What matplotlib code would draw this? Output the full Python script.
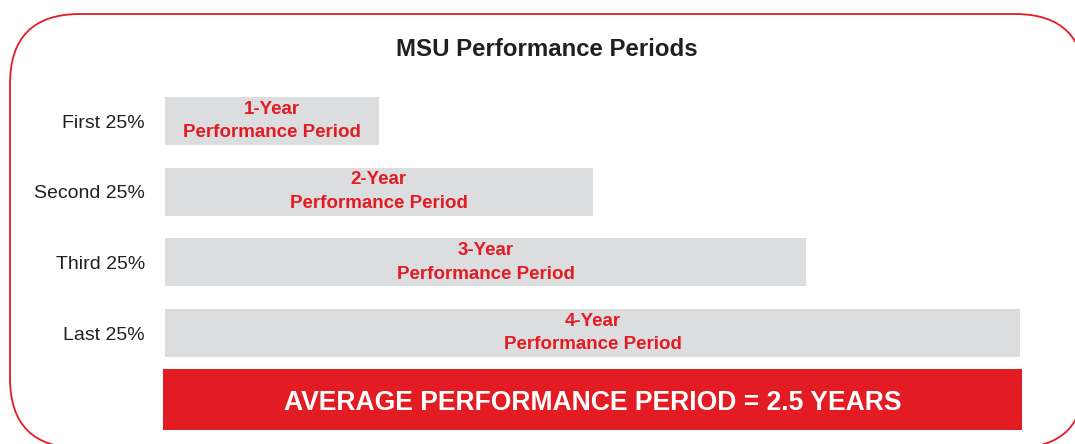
import matplotlib.pyplot as plt
from matplotlib.patches import FancyBboxPatch

# ---- data ----
categories = ['First 25%', 'Second 25%', 'Third 25%', 'Last 25%']
years = [1, 2, 3, 4]
bar_labels = ['1-Year\nPerformance Period', '2-Year\nPerformance Period',
              '3-Year\nPerformance Period', '4-Year\nPerformance Period']
avg_years = 2.5
title = 'MSU Performance Periods'

# ---- style ----
RED = '#e31b23'
GRAY = '#dcdddf'
DARK = '#231f20'
plt.rcParams['font.family'] = ['Liberation Sans', 'DejaVu Sans']

W, H = 1075, 444
fig = plt.figure(figsize=(W / 100, H / 100), dpi=100)

# background layer in pixel units for the rounded frame
bg = fig.add_axes([0, 0, 1, 1], zorder=0)
bg.set_xlim(0, W)
bg.set_ylim(H, 0)
bg.axis('off')
frame = FancyBboxPatch((10, 14), 1075, 434,
                       boxstyle='round,pad=0,rounding_size=70',
                       facecolor='white', edgecolor=RED, linewidth=1.3)
bg.add_patch(frame)
bg.text(547, 47, title, ha='center', va='center_baseline', fontsize=17.3,
        fontweight='bold', color=DARK)

# main chart axes: x in years, y in category rows
PX_PER_YEAR = 213.75
ROW = 70.67
X0, Y0 = 165, 121
ax = fig.add_axes([X0 / W, 0, 4 * PX_PER_YEAR / W, 1], zorder=1)
ax.set_facecolor('none')
ax.set_xlim(0, 4)
ax.set_ylim((H - Y0) / ROW, -Y0 / ROW)
ax.axis('off')

ypos = list(range(len(categories)))
ax.barh(ypos, years, height=48 / ROW, color=GRAY, left=0)
for y, v, cat, lab in zip(ypos, years, categories, bar_labels):
    ax.text(-20 / PX_PER_YEAR, y, cat, ha='right', va='center_baseline',
            fontsize=14, color=DARK)
    ax.text(v / 2, y, lab, ha='center', va='center', fontsize=13.5,
            fontweight='bold', color=RED, linespacing=1.5)

# average bar spanning the full width
avg_y = (399.5 - Y0) / ROW
pad = 2 / PX_PER_YEAR
ax.barh([avg_y], [max(years) + 2 * pad], left=-pad, height=61 / ROW,
        color=RED, clip_on=False)
ax.text(max(years) / 2, avg_y,
        f'AVERAGE PERFORMANCE PERIOD = {avg_years:g} YEARS',
        ha='center', va='center_baseline', fontsize=19.1, fontweight='bold',
        color='white')

fig.savefig('out.png', dpi=100)
